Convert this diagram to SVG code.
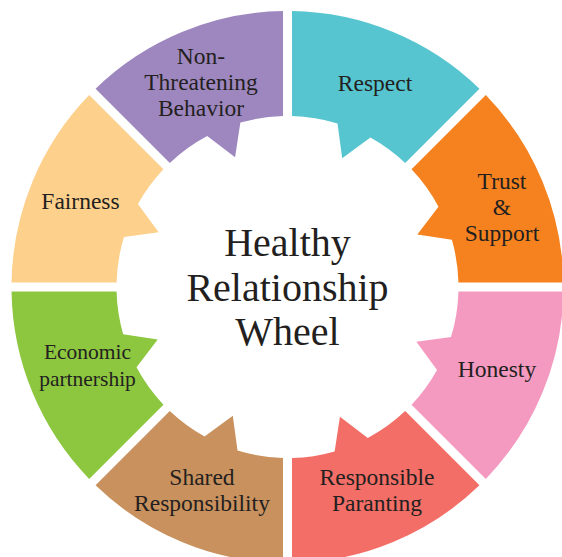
<svg xmlns="http://www.w3.org/2000/svg" width="562" height="557" viewBox="0 0 562 557">
<style>
.lbl{font-family:"Liberation Serif","Times New Roman",serif;font-size:23.5px;fill:#231F20;text-anchor:middle}
.sm{font-size:21.5px}
.ttl{font-family:"Liberation Serif","Times New Roman",serif;font-size:40px;fill:#231F20;text-anchor:middle}
</style>
<rect width="562" height="557" fill="#FFFFFF"/>
<g id="respect">
<path fill="#56C5D0" d="M292,11.04 A276,276 0 0 1 479.45,88.68 L405.19,162.94 A171,171 0 0 0 370.40,137.44 L342.20,158.13 L337.50,123.47 A171,171 0 0 0 292,116.06 Z"/>
<text class="lbl" x="375" y="91">Respect</text>
</g>
<g id="trust-support">
<path fill="#F5821F" d="M485.82,95.05 A276,276 0 0 1 563.46,282.50 L458.44,282.50 A171,171 0 0 0 451.88,239.87 L417.31,234.56 L438.48,206.72 A171,171 0 0 0 411.56,169.31 Z"/>
<text class="lbl" x="502" y="189">Trust</text>
<text class="lbl" x="502" y="215">&amp;</text>
<text class="lbl" x="502" y="241">Support</text>
</g>
<g id="honesty">
<path fill="#F49AC1" d="M563.46,291.50 A276,276 0 0 1 485.82,478.95 L411.56,404.69 A171,171 0 0 0 437.06,369.90 L416.37,341.70 L451.03,337.00 A171,171 0 0 0 458.44,291.50 Z"/>
<text class="lbl" x="497" y="377">Honesty</text>
</g>
<g id="responsible-paranting">
<path fill="#F26E66" d="M479.45,485.32 A276,276 0 0 1 292,562.96 L292,457.94 A171,171 0 0 0 334.63,451.38 L339.94,416.81 L367.78,437.98 A171,171 0 0 0 405.19,411.06 Z"/>
<text class="lbl" x="377" y="485">Responsible</text>
<text class="lbl" x="377" y="511">Paranting</text>
</g>
<g id="shared-responsibility">
<path fill="#C9915D" d="M283,562.96 A276,276 0 0 1 95.55,485.32 L169.81,411.06 A171,171 0 0 0 204.60,436.56 L232.80,415.87 L237.50,450.53 A171,171 0 0 0 283,457.94 Z"/>
<text class="lbl" x="202" y="485">Shared</text>
<text class="lbl" x="202" y="511">Responsibility</text>
</g>
<g id="economic-partnership">
<path fill="#8DC63F" d="M89.18,478.95 A276,276 0 0 1 11.54,291.50 L116.56,291.50 A171,171 0 0 0 123.12,334.13 L157.69,339.44 L136.52,367.28 A171,171 0 0 0 163.44,404.69 Z"/>
<text class="lbl sm" x="87.5" y="359">Economic</text>
<text class="lbl sm" x="87.5" y="386">partnership</text>
</g>
<g id="fairness">
<path fill="#FDD08C" d="M11.54,282.50 A276,276 0 0 1 89.18,95.05 L163.44,169.31 A171,171 0 0 0 137.94,204.10 L158.63,232.30 L123.97,237.00 A171,171 0 0 0 116.56,282.50 Z"/>
<text class="lbl" x="80.5" y="209">Fairness</text>
</g>
<g id="non-threatening-behavior">
<path fill="#9E87BF" d="M95.55,88.68 A276,276 0 0 1 283,11.04 L283,116.06 A171,171 0 0 0 240.37,122.62 L235.06,157.19 L207.22,136.02 A171,171 0 0 0 169.81,162.94 Z"/>
<text class="lbl" x="201" y="64">Non-</text>
<text class="lbl" x="201" y="90">Threatening</text>
<text class="lbl" x="201" y="116">Behavior</text>
</g>
<g id="title">
<text class="ttl" x="287.5" y="256">Healthy</text>
<text class="ttl" x="287.5" y="301">Relationship</text>
<text class="ttl" x="287.5" y="345">Wheel</text>
</g>
<g id="connectors"/>
</svg>
